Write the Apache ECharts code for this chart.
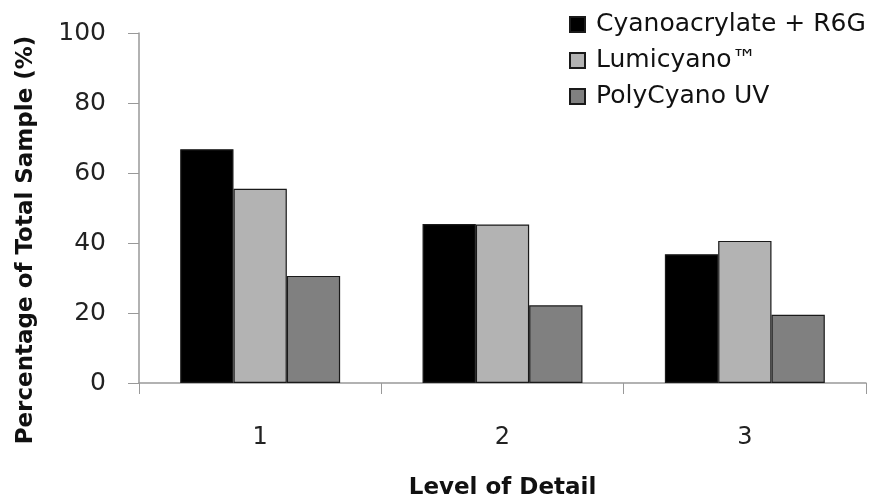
<!DOCTYPE html>
<html>
<head>
<meta charset="utf-8">
<script src="https://cdn.jsdelivr.net/npm/echarts@6/dist/echarts.min.js"></script>
<style>html,body{margin:0;padding:0;background:#fff}#c{width:877px;height:503px}</style>
</head>
<body>
<div id="c"></div>
<script>
const categories = ['1', '2', '3'];
const seriesNames = ['Cyanoacrylate + R6G', 'Lumicyano\u2122', 'PolyCyano UV'];
const cyanoR6G = [66.8, 45.4, 36.8];
const lumicyano = [55.5, 45.3, 40.6];
const polyCyanoUV = [30.6, 22.2, 19.5];
const yTicks = [0, 20, 40, 60, 80, 100];

const colors = ['#000000', '#b3b3b3', '#808080'];
const values = [cyanoR6G, lumicyano, polyCyanoUV];
const font = 'DejaVu Sans';

const chart = echarts.init(document.getElementById('c'), null, {renderer: 'canvas'});
chart.setOption({
  animation: false,
  backgroundColor: '#fff',
  grid: {left: 139, right: 11, top: 33, bottom: 120, containLabel: false, outerBoundsMode: 'none'},
  legend: {
    orient: 'vertical',
    left: 564, top: 7,
    itemWidth: 15, itemHeight: 15, itemGap: 11,
    icon: 'rect',
    textStyle: {fontFamily: font, fontSize: 25, color: '#111', lineHeight: 24, padding: [0,0,0,6]},
    data: seriesNames
  },
  xAxis: {
    type: 'category',
    data: categories,
    name: 'Level of Detail',
    nameLocation: 'middle',
    nameGap: 94,
    nameTextStyle: {fontFamily: font, fontSize: 23, fontWeight: 'bold', color: '#111'},
    axisLine: {lineStyle: {color: '#999', width: 1.5}},
    axisTick: {show: true, length: 11, lineStyle: {color: '#999'}},
    axisLabel: {fontFamily: font, fontSize: 24, color: '#222', margin: 43}
  },
  yAxis: {
    type: 'value',
    min: 0, max: 100, interval: 20,
    name: 'Percentage of Total Sample (%)',
    nameLocation: 'middle',
    nameGap: 101,
    nameTextStyle: {fontFamily: font, fontSize: 23, fontWeight: 'bold', color: '#111', padding: [0, 64, 0, 0]},
    splitLine: {show: false},
    axisLine: {show: true, lineStyle: {color: '#999', width: 1.5}},
    axisTick: {show: true, length: 11, lineStyle: {color: '#999'}},
    axisLabel: {fontFamily: font, fontSize: 25, color: '#222', margin: 33,
      formatter: v => yTicks.includes(v) ? String(v) : ''}
  },
  series: seriesNames.map((n, i) => ({
    name: n,
    type: 'bar',
    data: values[i],
    barGap: '0%',
    barCategoryGap: '34%',
    itemStyle: {color: colors[i], borderColor: '#1a1a1a', borderWidth: 1.2}
  }))
});
</script>
</body>
</html>
